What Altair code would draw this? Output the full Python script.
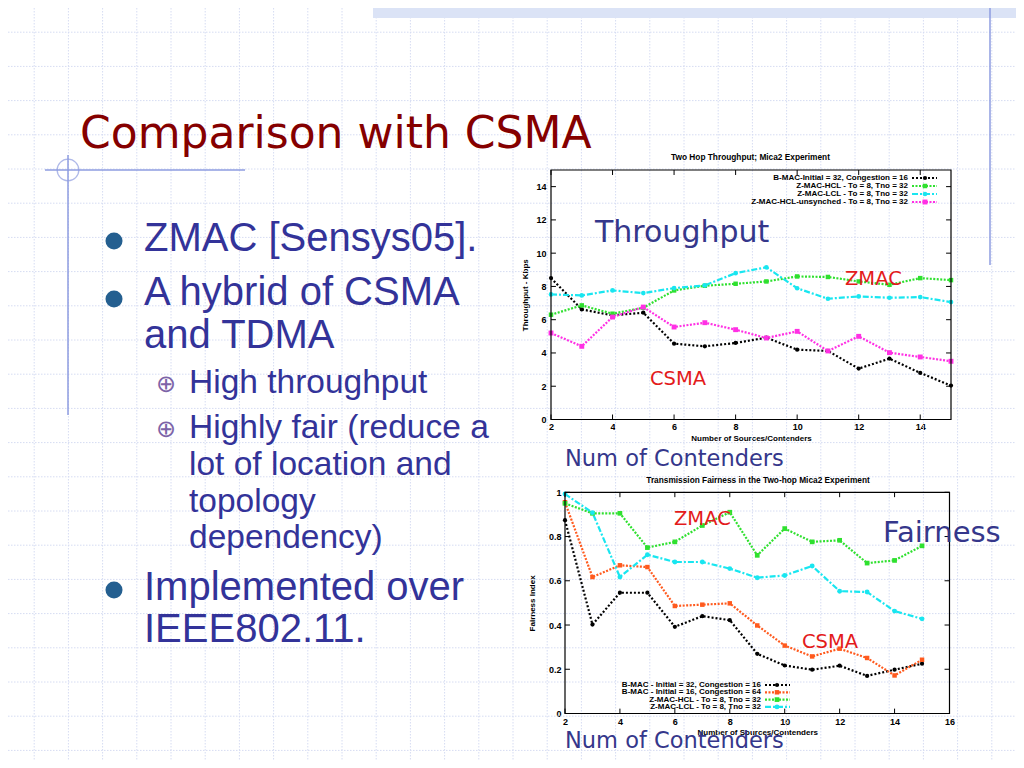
import altair as alt
import pandas as pd

W, H = 1008, 752  # whole slide canvas (page minus 8px margin)

# ------------------------------------------------------------------ data
contenders = list(range(2, 16))

top_names = [
    "B-MAC-Initial = 32, Congestion = 16",
    "Z-MAC-HCL - To = 8, Tno = 32",
    "Z-MAC-LCL - To = 8, Tno = 32",
    "Z-MAC-HCL-unsynched - To = 8, Tno = 32",
]
top_bmac = [8.50, 6.62, 6.26, 6.42, 4.56, 4.40, 4.60, 4.92, 4.20, 4.12, 3.06, 3.66, 2.80, 2.04]
top_hcl = [6.30, 6.86, 6.36, 6.72, 7.76, 8.04, 8.16, 8.30, 8.60, 8.57, 8.30, 8.10, 8.50, 8.38]
top_lcl = [7.52, 7.46, 7.76, 7.60, 7.90, 8.06, 8.80, 9.15, 7.89, 7.26, 7.40, 7.32, 7.36, 7.06]
top_unsync = [5.20, 4.40, 6.16, 6.76, 5.56, 5.82, 5.40, 4.90, 5.30, 4.12, 5.00, 4.02, 3.76, 3.50]
top_x_ticks = [2, 4, 6, 8, 10, 12, 14]
top_y_ticks = [0, 2, 4, 6, 8, 10, 12, 14]

bot_names = [
    "B-MAC - Initial = 32, Congestion = 16",
    "B-MAC - Initial = 16, Congestion = 64",
    "Z-MAC-HCL - To = 8, Tno = 32",
    "Z-MAC-LCL - To = 8, Tno = 32",
]
bot_bmac1 = [0.874, 0.402, 0.546, 0.546, 0.392, 0.440, 0.422, 0.270, 0.217, 0.198, 0.216, 0.170, 0.198, 0.225]
bot_bmac2 = [0.955, 0.617, 0.670, 0.662, 0.486, 0.492, 0.498, 0.398, 0.307, 0.258, 0.293, 0.251, 0.172, 0.243]
bot_hcl = [0.950, 0.905, 0.905, 0.750, 0.776, 0.850, 0.910, 0.715, 0.836, 0.776, 0.783, 0.680, 0.692, 0.758]
bot_lcl = [0.992, 0.908, 0.617, 0.718, 0.685, 0.685, 0.655, 0.614, 0.624, 0.667, 0.553, 0.549, 0.463, 0.428]
bot_x_ticks = [2, 4, 6, 8, 10, 12, 14, 16]
bot_y_ticks = [0, 0.2, 0.4, 0.6, 0.8, 1]

slide_title = "Comparison with CSMA"
bullet_big = ["ZMAC [Sensys05].", "A hybrid of CSMA", "and TDMA", "Implemented over", "IEEE802.11."]
bullet_small = ["High throughput", "Highly fair (reduce a", "lot of location and", "topology", "dependency)"]

top_title = "Two Hop Throughput; Mica2 Experiment"
bot_title = "Transmission Fairness in the Two-hop Mica2 Experiment"
x_title = "Number of Sources/Contenders"
top_y_title = "Throughput - Kbps"
bot_y_title = "Fairness Index"

# ------------------------------------------------------------------ styles
top_colors = ["#000000", "#2fe02f", "#19e6f0", "#ff30e4"]
top_dashes = [[2, 2], [2, 1.5], [6, 2, 2, 2], [2, 1.5]]
top_shapes = ["circle", "square", "circle", "square"]
top_sizes = [18, 24, 24, 60]

bot_colors = ["#000000", "#ff5a1e", "#2fe02f", "#19e6f0"]
bot_dashes = [[2, 2], [2, 1.5], [2, 1.5], [6, 2, 2, 2]]
bot_shapes = ["circle", "square", "square", "circle"]
bot_sizes = [18, 24, 24, 24]

SLIDE_BLUE = "#333399"
ANNO_BLUE = "#35378b"
RED = "#e31b1b"
DECO = "#8e9ce0"
GP_FONT = "Liberation Sans"
BODY_FONT = "Liberation Sans"
ANNO_FONT = "DejaVu Sans"


def long_df(names, values):
    rows = []
    for name, vals in zip(names, values):
        for n, v in zip(contenders, vals):
            rows.append({"n": n, "v": v, "s": name})
    return pd.DataFrame(rows)


def text(t, x, y, size, color, font, weight="normal", align="left", baseline="alphabetic", angle=0):
    return alt.Chart().mark_text(
        text=t, align=align, baseline=baseline, fontSize=size, color=color,
        font=font, fontWeight=weight, angle=angle,
    ).encode(x=alt.value(x), y=alt.value(y))


def panel(df, names, colors, dashes, shapes, sizes, xdom, ydom, xr, yr,
          xticks, yticks, ytitle, yfmt, xoff, yoff, xlp, xtp, ylp, ytp,
          tick_dx, tick_dy, leg_y0, leg_dy, leg_tx, leg_l1, leg_l2, leg_px, leg_fs):
    xs = alt.Scale(domain=xdom, range=xr, nice=False, zero=False)
    ys = alt.Scale(domain=ydom, range=yr, nice=False, zero=False)
    color = alt.Color("s:N", scale=alt.Scale(domain=names, range=colors), legend=None)
    dash = alt.StrokeDash("s:N", scale=alt.Scale(domain=names, range=dashes), legend=None)
    shape = alt.Shape("s:N", scale=alt.Scale(domain=names, range=shapes), legend=None)
    size = alt.Size("s:N", scale=alt.Scale(domain=names, range=sizes), legend=None)

    X = alt.X("n:Q", scale=xs, axis=alt.Axis(
        orient="bottom", offset=xoff, values=xticks, format="~g", title=x_title,
        labelPadding=xlp, titlePadding=xtp, labelFlush=False, labelOverlap=False))
    Y = alt.Y("v:Q", scale=ys, axis=alt.Axis(
        orient="left", offset=yoff, values=yticks, format=yfmt, title=ytitle,
        labelPadding=ylp, titlePadding=ytp, labelOverlap=False))

    base = alt.Chart(df)
    lines = base.mark_line(strokeWidth=2.2).encode(x=X, y=Y, color=color, strokeDash=dash)
    pts = base.mark_point(filled=True, opacity=1).encode(
        x="n:Q", y="v:Q", color=color, shape=shape, size=size)

    frame = alt.Chart().mark_rect(fillOpacity=0, stroke="black", strokeWidth=1.2).encode(
        x=alt.datum(xdom[0]), x2=alt.datum(xdom[1]),
        y=alt.datum(ydom[0]), y2=alt.datum(ydom[1]))

    xt = alt.Chart(pd.DataFrame({"n": xticks}))
    yt = alt.Chart(pd.DataFrame({"v": yticks}))
    tb = xt.mark_rule(color="black", strokeWidth=1).encode(
        x="n:Q", y=alt.datum(ydom[0]), y2=alt.datum(ydom[0] + tick_dy))
    tt = xt.mark_rule(color="black", strokeWidth=1).encode(
        x="n:Q", y=alt.datum(ydom[1]), y2=alt.datum(ydom[1] - tick_dy))
    tl = yt.mark_rule(color="black", strokeWidth=1).encode(
        y="v:Q", x=alt.datum(xdom[0]), x2=alt.datum(xdom[0] + tick_dx))
    tr = yt.mark_rule(color="black", strokeWidth=1).encode(
        y="v:Q", x=alt.datum(xdom[1]), x2=alt.datum(xdom[1] - tick_dx))

    leg = alt.Chart(pd.DataFrame({"s": names, "r": list(range(len(names)))})).transform_calculate(
        ly=f"{leg_y0} + datum.r * {leg_dy}")
    LY = alt.Y("ly:Q", scale=None)
    leg_text = leg.mark_text(align="right", baseline="middle", font=GP_FONT,
                             fontSize=leg_fs, fontWeight="bold", color="black").encode(
        x=alt.value(leg_tx), y=LY, text="s:N")
    leg_line = leg.mark_rule(strokeWidth=2.2).encode(
        x=alt.value(leg_l1), x2=alt.value(leg_l2), y=LY, color=color, strokeDash=dash)
    leg_pt = leg.mark_point(filled=True, opacity=1).encode(
        x=alt.value(leg_px), y=LY, color=color, shape=shape, size=size)

    return alt.layer(lines, pts, frame, tb, tt, tl, tr, leg_line, leg_pt, leg_text)


# ------------------------------------------------------------------ background slide
grid_v = alt.Chart(alt.sequence(0, 30, as_="k")).transform_calculate(
    gx="datum.k * 34.2 - 8").mark_rule(color="#d6dcf2", strokeWidth=1, strokeDash=[1.5, 1.5]).encode(
    x=alt.X("gx:Q", scale=None), y=alt.value(0), y2=alt.value(H))
grid_h = alt.Chart(alt.sequence(1, 23, as_="k")).transform_calculate(
    gy="datum.k * 34.2 - 10").mark_rule(color="#d6dcf2", strokeWidth=1, strokeDash=[1.5, 1.5]).encode(
    y=alt.Y("gy:Q", scale=None), x=alt.value(0), x2=alt.value(W))
band = alt.Chart().mark_rect(color="#dbe3f6").encode(
    x=alt.value(365), x2=alt.value(W), y=alt.value(0), y2=alt.value(10))
vline_r = alt.Chart().mark_rule(color=DECO, strokeWidth=1.5).encode(
    x=alt.value(982), y=alt.value(0), y2=alt.value(257))
vline_l = alt.Chart().mark_rule(color=DECO, strokeWidth=1.5).encode(
    x=alt.value(60), y=alt.value(147), y2=alt.value(407))
hline_l = alt.Chart().mark_rule(color=DECO, strokeWidth=1.5).encode(
    x=alt.value(37), x2=alt.value(237), y=alt.value(162))
circ_l = alt.Chart().mark_point(shape="circle", size=470, color=DECO, strokeWidth=1.3).encode(
    x=alt.value(60), y=alt.value(162))

title_t = text(slide_title, 72, 140, 44, "#850000", ANNO_FONT)

big_pos = [(136, 243), (136, 297), (136, 340), (136, 592), (136, 634)]
small_pos = [(181, 385), (181, 430), (181, 467), (181, 504), (181, 540)]
body = [text(t, x, y, 40, SLIDE_BLUE, BODY_FONT) for t, (x, y) in zip(bullet_big, big_pos)]
body += [text(t, x, y, 33.5, SLIDE_BLUE, BODY_FONT) for t, (x, y) in zip(bullet_small, small_pos)]

dots = [alt.Chart().mark_point(shape="circle", filled=True, opacity=1, size=290, color="#245f90").encode(
    x=alt.value(106), y=alt.value(y)) for y in (233, 291, 582)]
subs = [text("\u2295", 158, y, 24, "#7d64a8", "DejaVu Sans", baseline="middle", align="center")
        for y in (377, 422)]

background = alt.layer(grid_v, grid_h, band, vline_r, vline_l, hline_l, circ_l,
                       title_t, *body, *dots, *subs)

# ------------------------------------------------------------------ charts
top_df = long_df(top_names, [top_bmac, top_hcl, top_lcl, top_unsync])
bot_df = long_df(bot_names, [bot_bmac1, bot_bmac2, bot_hcl, bot_lcl])

top_panel = panel(
    top_df, top_names, top_colors, top_dashes, top_shapes, top_sizes,
    xdom=[2, 15], ydom=[0, 15], xr=[543, 943], yr=[411.5, 162],
    xticks=top_x_ticks, yticks=top_y_ticks, ytitle=top_y_title, yfmt="~g",
    xoff=-(H - 411.5), yoff=-543, xlp=3, xtp=3, ylp=5, ytp=6,
    tick_dx=0.16, tick_dy=0.3,
    leg_y0=170, leg_dy=8, leg_tx=900, leg_l1=904, leg_l2=929, leg_px=917, leg_fs=8)

bot_panel = panel(
    bot_df, bot_names, bot_colors, bot_dashes, bot_shapes, bot_sizes,
    xdom=[2, 16], ydom=[0, 1], xr=[557, 941.5], yr=[705.5, 484.3],
    xticks=bot_x_ticks, yticks=bot_y_ticks, ytitle=bot_y_title, yfmt="~g",
    xoff=-(H - 705.5), yoff=-557, xlp=4, xtp=2, ylp=4, ytp=12,
    tick_dx=0.18, tick_dy=0.022,
    leg_y0=677, leg_dy=7.3, leg_tx=753, leg_l1=757, leg_l2=782, leg_px=769, leg_fs=8)

annotations = alt.layer(
    text(top_title, 742.5, 149.5, 8.3, "black", GP_FONT, weight="bold", align="center", baseline="middle"),
    text(bot_title, 750, 473, 8.3, "black", GP_FONT, weight="bold", align="center", baseline="middle"),
    text("Throughput", 587, 234, 30, ANNO_BLUE, ANNO_FONT),
    text("ZMAC", 837, 277, 19.5, RED, ANNO_FONT),
    text("CSMA", 642, 377, 19.5, RED, ANNO_FONT),
    text("Num of Contenders", 557, 458, 22.5, ANNO_BLUE, ANNO_FONT),
    text("ZMAC", 666, 517, 19.5, RED, ANNO_FONT),
    text("Fairness", 875, 534, 29, ANNO_BLUE, ANNO_FONT),
    text("CSMA", 794, 640, 19.5, RED, ANNO_FONT),
    text("Num of Contenders", 557, 740, 22.5, ANNO_BLUE, ANNO_FONT),
)

chart = alt.layer(background, top_panel, bot_panel, annotations).resolve_scale(
    x="independent", y="independent", color="independent",
    strokeDash="independent", shape="independent", size="independent",
).properties(
    width=W, height=H, padding=0, background="white",
    autosize=alt.AutoSizeParams(type="none"),
).configure_view(strokeWidth=0).configure_axis(
    grid=False, ticks=False, domain=False,
    labelFont=GP_FONT, labelFontSize=9, labelFontWeight="bold", labelColor="black",
    titleFont=GP_FONT, titleFontSize=8, titleFontWeight="bold", titleColor="black",
)

chart.save("out.html", embed_options={"renderer": "svg", "actions": False})
